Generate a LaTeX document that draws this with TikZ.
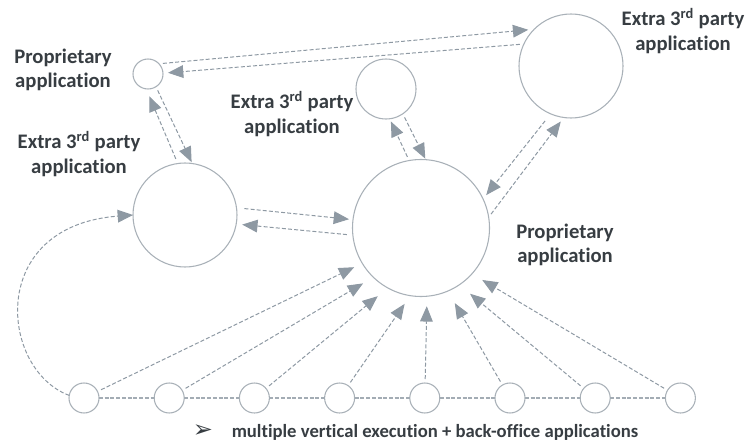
\documentclass[tikz,border=0pt]{standalone}
\usepackage{fontspec}
\setmainfont{Carlito}[Ligatures=CommonOff]
\newfontfamily\symfont{DejaVu Sans}
\usetikzlibrary{arrows.meta}
\definecolor{circ}{HTML}{A9B1B8}
\definecolor{lin}{HTML}{8E99A3}
\definecolor{row}{HTML}{A3ACB4}
\definecolor{txt}{HTML}{373D42}
\begin{document}
\begin{tikzpicture}[x=0.75pt,y=-0.75pt,
  app/.style={circle,draw=circ,line width=0.8pt,inner sep=0pt,outer sep=0pt,fill=white},
  lbl/.style={font=\fontsize{15.5}{18.5}\selectfont\bfseries,text=txt,align=center,inner sep=0pt},
  link/.style={draw=lin,line width=0.75pt,dash pattern=on 3pt off 1.6pt,
    -{Triangle[length=11.5pt,width=9.5pt]}},
  rowlink/.style={draw=row,line width=1.1pt,dash pattern=on 3pt off 1.3pt}]
\useasboundingbox (0,0) rectangle (749,442);

% circles
\node[app,minimum size=22.5pt] (p)  at (148,74)  {};
\node[app,minimum size=78pt]   (tr) at (571,66)  {};
\node[app,minimum size=45pt]   (m)  at (386,89)  {};
\node[app,minimum size=78pt]   (l)  at (185,215) {};
\node[app,minimum size=102.75pt] (c) at (421,228) {};
\foreach \i in {1,...,8} {
  \node[app,minimum size=22.5pt] (b\i) at ({84+85.2*(\i-1)},398) {};
}

% labels
\node[lbl] (lp)  at (63,70)   {Proprietary\\application};
\node[lbl] (ltr) at (683,31)  {Extra 3\textsuperscript{rd} party\\application};
\node[lbl] (lm)  at (292,114) {Extra 3\textsuperscript{rd} party\\application};
\node[lbl] (ll)  at (79,154)  {Extra 3\textsuperscript{rd} party\\application};
\node[lbl] (lc)  at (565,245) {Proprietary\\application};

\node[inner sep=0pt,text=txt] (bul) at (203,431) {\symfont\fontsize{18}{20}\selectfont ➢};
\node[inner sep=0pt,text=txt,font=\fontsize{14}{16}\selectfont\bfseries] (bt) at (435,432)
  {multiple vertical execution + back-office applications};

% bottom row links
\foreach \i/\j in {1/2,2/3,3/4,4/5,5/6,6/7,7/8} {
  \draw[rowlink] (b\i) -- (b\j);
}

% connectors
\draw[link,shorten <=3pt,shorten >=4.5pt] (p.43) -- (tr.135);
\draw[link,shorten <=3pt,shorten >=3.75pt] (tr.155) -- (p.3);
\draw[link,shorten <=3.75pt,shorten >=6pt] (l.98) -- (p.263);
\draw[link,shorten <=3pt,shorten >=1.1pt] (p.302) -- (l.82);
\draw[link,shorten <=3pt,shorten >=2.2pt] (c.100) -- (m.277);
\draw[link,shorten <=3pt,shorten >=0.8pt] (m.304) -- (c.86);
\draw[link,shorten <=6pt,shorten >=3pt] (l.8) -- (c.173);
\draw[link,shorten <=4.5pt,shorten >=4.5pt] (c.186) -- (l.350);
\draw[link,shorten <=6.75pt,shorten >=3.75pt] (tr.247) -- (c.25);
\draw[link,shorten <=3pt,shorten >=3.75pt] (c.9) -- (tr.262);

% curved link from first bottom circle to left circle
\draw[link] (b1.170) .. controls (0,370) and (-14,226) .. (l.180);

% bottom circles to central circle
\foreach \i/\a/\g in {1/211/6.75,2/226/9,3/241/9.75,4/261/7.5,5/275/7.5,6/293/10.5,7/304/10.5,8/318/9} {
  \draw[link,shorten <=3pt,shorten >=\g pt] (b\i) -- (c.\a);
}
\end{tikzpicture}
\end{document}
